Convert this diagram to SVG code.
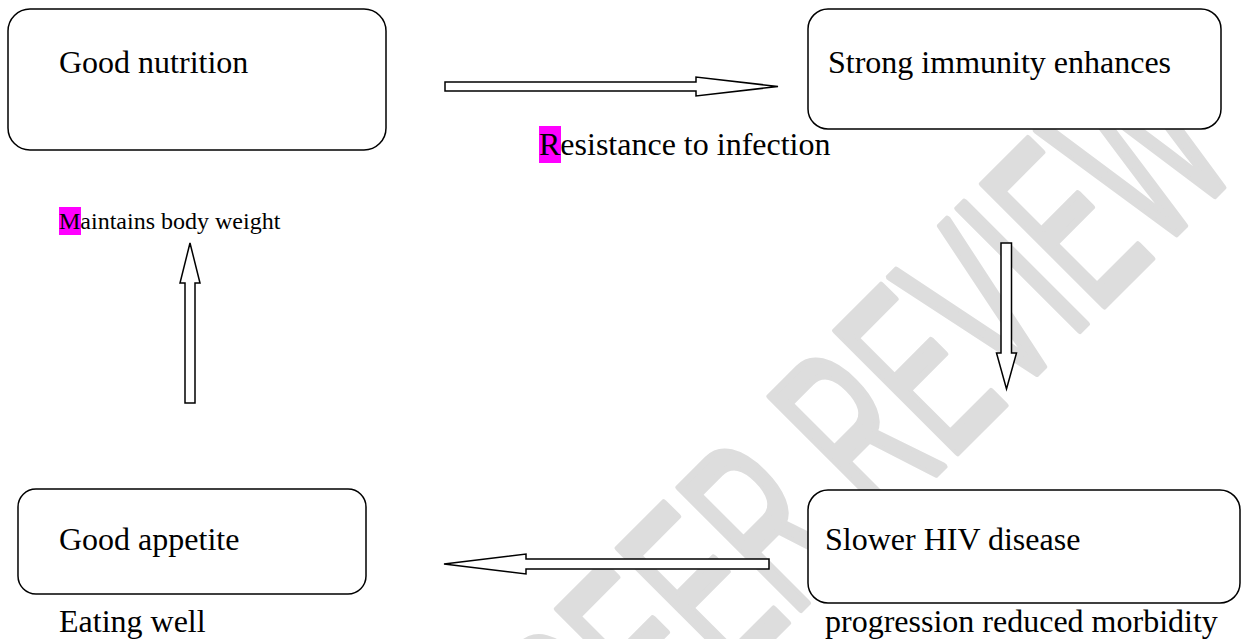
<svg xmlns="http://www.w3.org/2000/svg" width="1241" height="639" viewBox="0 0 1241 639">
<style>
.box{fill:#ffffff;stroke:#000000;stroke-width:1.5}
.arrow{fill:#ffffff;stroke:#000000;stroke-width:1.5;stroke-linejoin:miter}
.t{font-family:"Liberation Serif","Times New Roman",serif;font-size:32px;fill:#000000}
.ts{font-family:"Liberation Serif","Times New Roman",serif;font-size:24px;fill:#000000}
.hl{fill:#ff00ff}
.wm{font-family:"Liberation Sans",Arial,sans-serif;font-size:250px;fill:#dddddd;stroke:#dddddd;stroke-width:7;stroke-linejoin:round}
</style>
<rect width="1241" height="639" fill="#ffffff"/>
<g id="watermark">
<text class="wm" transform="translate(610,800) rotate(-45) scale(0.515,1)" x="0" y="0">PEER REVIEW</text>
</g>
<g id="node-good-nutrition">
<rect class="box" x="8" y="9" width="378" height="141" rx="22" ry="22"/>
<text class="t" x="59" y="73">Good nutrition</text>
</g>
<g id="node-strong-immunity">
<rect class="box" x="808" y="9" width="413" height="120" rx="20" ry="20"/>
<text class="t" x="828" y="73">Strong immunity enhances</text>
</g>
<g id="node-good-appetite">
<rect class="box" x="18" y="489" width="348" height="105" rx="18" ry="18"/>
<text class="t" x="59" y="550">Good appetite</text>
</g>
<g id="node-slower-hiv">
<rect class="box" x="808" y="490" width="432" height="113" rx="20" ry="20"/>
<text class="t" x="825" y="550">Slower HIV disease</text>
</g>
<g id="connectors">
<polygon class="arrow" points="445,82 696,82 696,77 778,86.5 696,96 696,91 445,91"/>
<polygon class="arrow" points="1001,243 1011.5,243 1011.5,353 1016.5,353 1006.5,389 996.5,353 1001,353"/>
<polygon class="arrow" points="769,559 526,559 526,554 444,564 526,574 526,569 769,569"/>
<polygon class="arrow" points="185,403 185,283 180,283 190,243 200,283 195,283 195,403"/>
</g>
<g id="labels">
<rect class="hl" x="539" y="126" width="22" height="37"/>
<text class="t" x="539" y="155">Resistance to infection</text>
<rect class="hl" x="59" y="207" width="22" height="28"/>
<text class="ts" x="59" y="229">Maintains body weight</text>
<text class="t" x="59" y="632">Eating well</text>
<text class="t" x="825" y="632">progression reduced morbidity</text>
</g>
</svg>
